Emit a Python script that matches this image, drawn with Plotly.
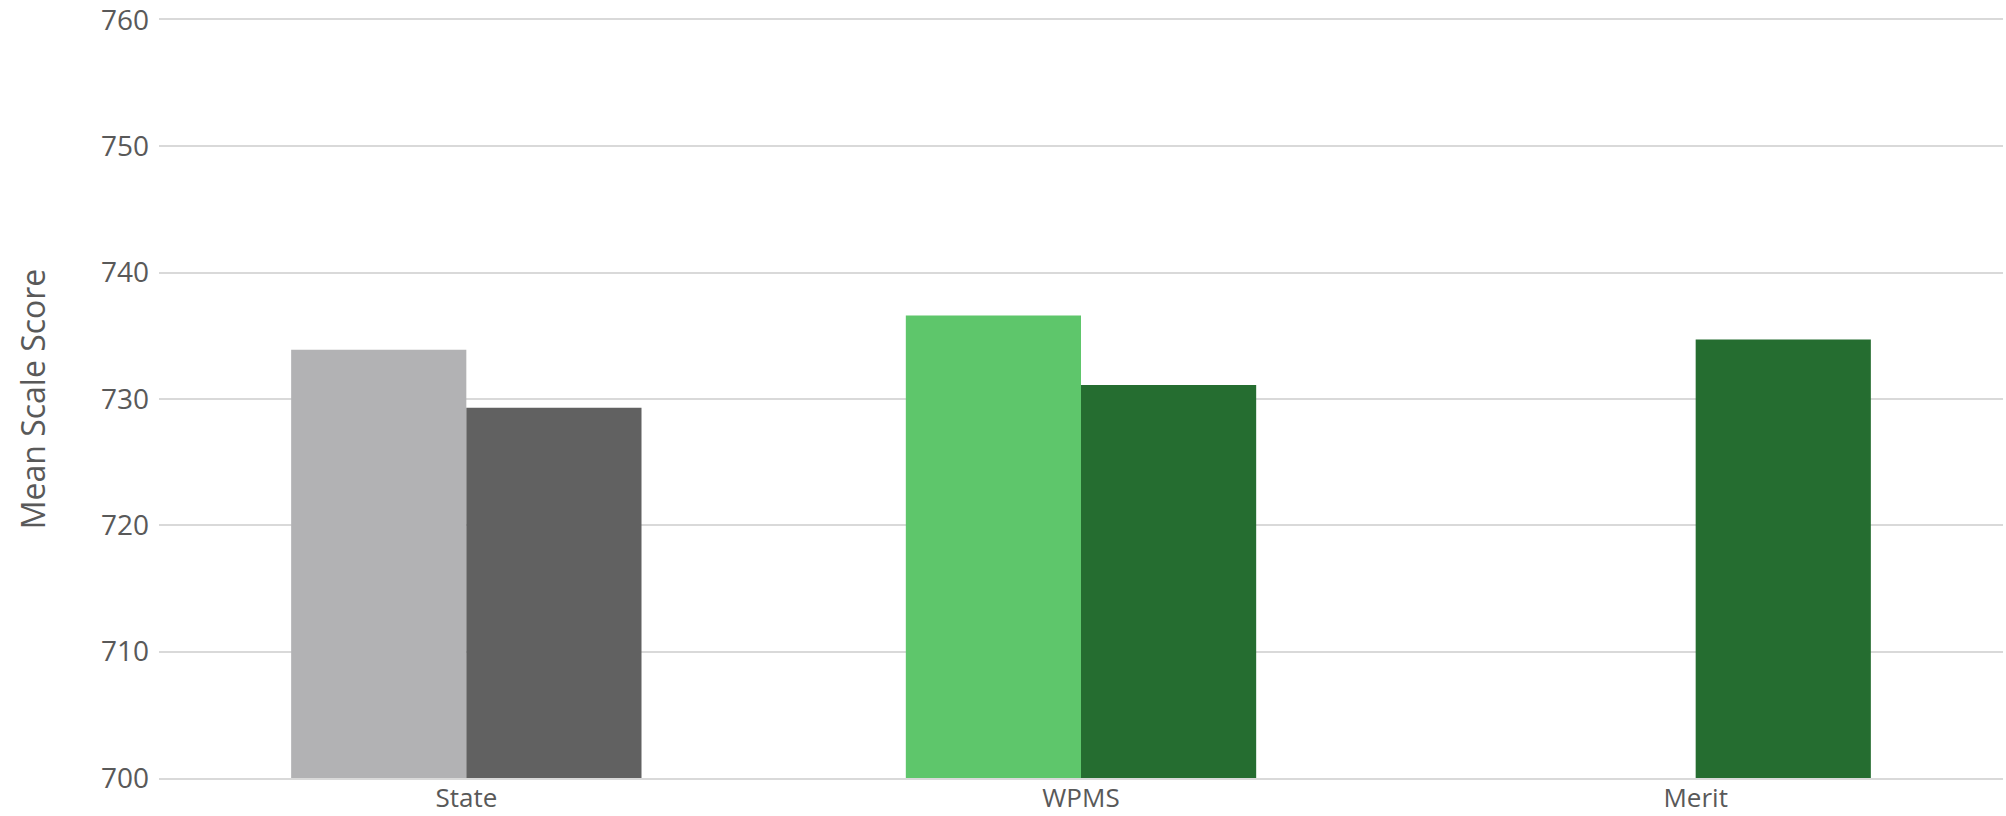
import plotly.graph_objects as go

categories = ["State", "WPMS", "Merit"]
series_a = [733.9, 736.6, None]
series_b = [729.3, 731.1, 734.7]
colors_a = ["#B2B2B4", "#5EC66B", "#5EC66B"]
colors_b = ["#616161", "#256D30", "#256D30"]
y_ticks = [700, 710, 720, 730, 740, 750, 760]

FONT = "Open Sans"
TXT = "#595959"
GRID = "#D9D9D9"

fig = go.Figure()
fig.add_trace(go.Bar(x=categories, y=series_a, marker=dict(color=colors_a, line=dict(width=0)),
                     showlegend=False))
fig.add_trace(go.Bar(x=categories, y=series_b, marker=dict(color=colors_b, line=dict(width=0)),
                     showlegend=False))

fig.update_layout(
    width=2006, height=816,
    margin=dict(l=159, r=3, t=19.5, b=38, autoexpand=False),
    paper_bgcolor="white", plot_bgcolor="white",
    barmode="group", bargap=0.43, bargroupgap=0,
    font=dict(family=FONT, color=TXT),
    xaxis=dict(showgrid=False, showline=True, linecolor=GRID, linewidth=2, mirror=True,
               ticks="", automargin=False, ticklabelstandoff=-4,
               ticklabeloverflow="allow",
               tickfont=dict(size=26, color=TXT, family=FONT)),
    yaxis=dict(range=[700, 760], tickvals=y_ticks, showgrid=True, gridcolor=GRID,
               gridwidth=2, zeroline=False, showline=False, ticks="", automargin=False,
               ticklabelstandoff=9, ticklabeloverflow="allow",
               tickfont=dict(size=28, color=TXT, family=FONT),
               title=dict(text="Mean Scale Score", font=dict(size=32, color=TXT, family=FONT),
                          standoff=45)),
)

fig.write_html("out.html", config={"displayModeBar": False},
               post_script="document.body.style.margin='0';")
